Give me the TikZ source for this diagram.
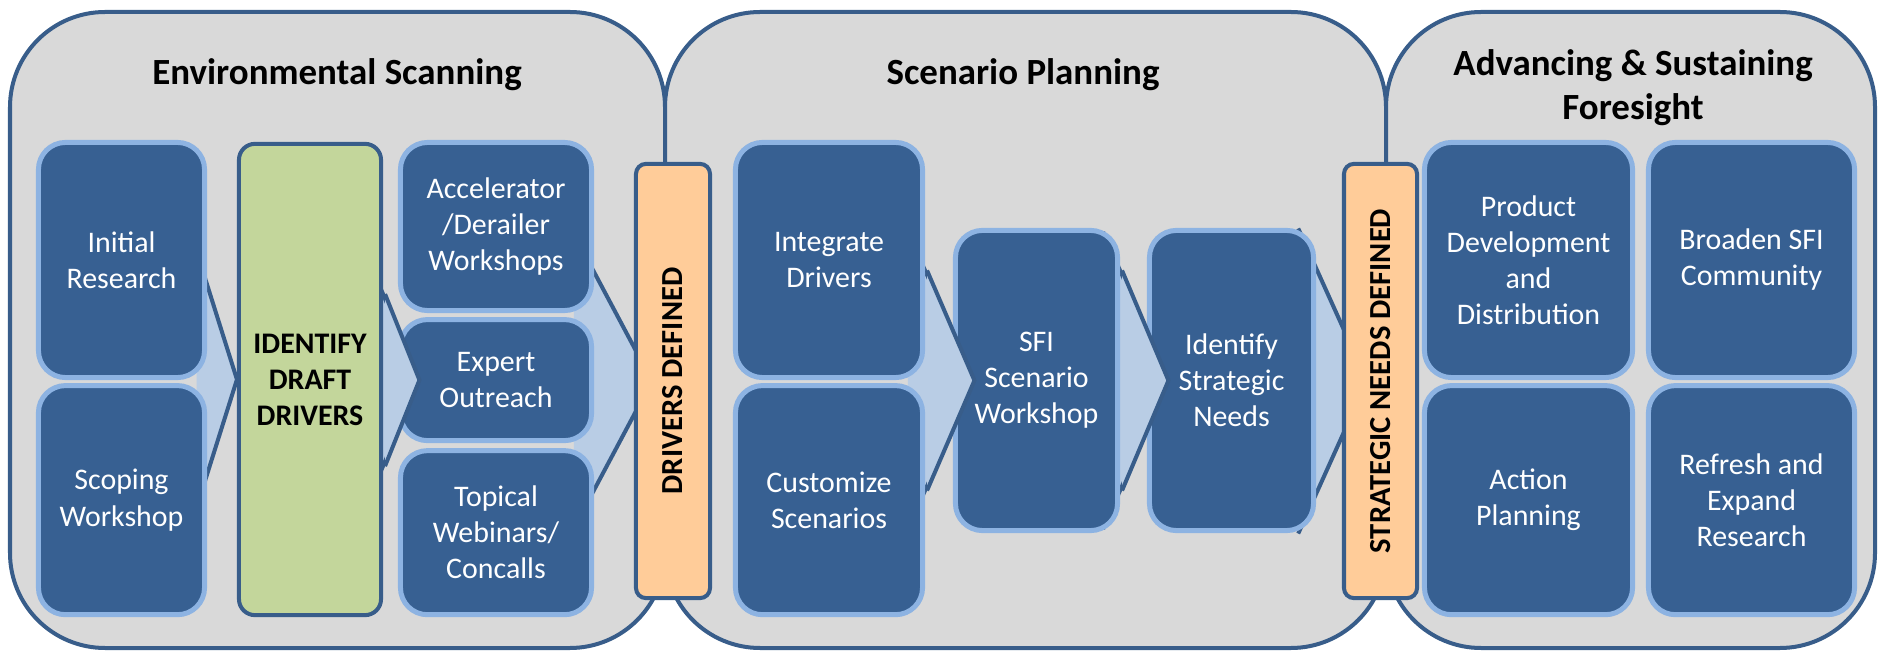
\documentclass[tikz,border=0pt]{standalone}
\usepackage{fontspec}
\setmainfont{Carlito}
\usetikzlibrary{positioning, calc}
\definecolor{panelgray}{HTML}{D9D9D9}
\definecolor{edgeblue}{HTML}{385D8A}
\definecolor{boxblue}{HTML}{376092}
\definecolor{rimblue}{HTML}{8DB3E2}
\definecolor{chevblue}{HTML}{B9CDE5}
\definecolor{keygreen}{HTML}{C3D69B}
\definecolor{gateorange}{HTML}{FFCC99}
\pgfdeclarelayer{panels}
\pgfdeclarelayer{arrows}
\pgfsetlayers{panels,arrows,main}
% chevron under the boxes: #1 source node, #2 tip, #3 half height at the source edge
\newcommand{\chevback}[3]{%
  \coordinate (cu) at ($(#1.east |- #2)+(0,-#3)$);
  \coordinate (cl) at ($(#1.east |- #2)+(0,#3)$);
  \begin{pgfonlayer}{arrows}
    \fill[chev] ($(#2)!1.35!(cu)$) -- (#2) -- ($(#2)!1.35!(cl)$) -- cycle;
    \draw[chevline] ($(#2)!1.35!(cu)$) -- (#2) -- ($(#2)!1.35!(cl)$);
  \end{pgfonlayer}}
% tip of a chevron laid over its target box
\newcommand{\chevfront}[3]{%
  \coordinate (cu) at ($(#1.east |- #2)+(2,-#3)$);
  \coordinate (cl) at ($(#1.east |- #2)+(2,#3)$);
  \fill[chev] (cu) -- (#2) -- (cl) -- cycle;
  \draw[chevline] (cu) -- (#2) -- (cl);}
\begin{document}
\begin{tikzpicture}[
    x=0.01cm, y=-0.01cm,
    panel/.style ={draw=edgeblue, fill=panelgray, line width=0.04cm,
                   rounded corners=0.95cm},
    ttl/.style   ={font=\fontsize{10.5}{12.5}\selectfont\bfseries, align=center},
    blk/.style   ={draw=rimblue, fill=boxblue, line width=0.05cm,
                   rounded corners=0.27cm, text=white, align=center,
                   inner sep=2pt, font=\fontsize{8.5}{10.25}\selectfont},
    key/.style   ={draw=edgeblue, fill=keygreen, line width=0.04cm,
                   rounded corners=0.16cm, align=center,
                   font=\fontsize{8.5}{10.25}\selectfont\bfseries},
    gate/.style  ={draw=edgeblue, fill=gateorange, line width=0.04cm,
                   rounded corners=0.1cm, inner sep=0pt,
                   font=\fontsize{8.7}{10}\selectfont\bfseries},
    chev/.style  ={fill=chevblue},
    chevline/.style={draw=edgeblue, line width=0.04cm},
]
\useasboundingbox (0,0) rectangle (1879,652);
\begin{pgfonlayer}{panels}
\draw[panel] (10,12)   rectangle (665,648);
\draw[panel] (665,12)  rectangle (1386,648);
\draw[panel] (1386,12) rectangle (1875,648);
\end{pgfonlayer}
\node[ttl, anchor=base] (es)  at (337,85)  {Environmental Scanning};
\node[ttl, anchor=base] (sp)  at (1023,85) {Scenario Planning};
\node[ttl]              (asf) at (1633,88) {Advancing \& Sustaining\\Foresight};

\node[blk, minimum width=1.66cm, minimum height=2.35cm] (ir) at (121.5,260)
     {Initial\\Research};
\node[blk, minimum width=1.66cm, minimum height=2.29cm, below=0.03cm of ir] (sw)
     {Scoping\\Workshop};
\node[key, minimum width=1.42cm, minimum height=4.71cm] (dr) at (310,379.5)
     {IDENTIFY\\DRAFT\\DRIVERS};
\node[blk, minimum width=1.91cm, minimum height=1.68cm] (ac) at (496,226.5)
     {Accelerator\\/Derailer\\Workshops};
\node[blk, minimum width=1.91cm, minimum height=1.21cm, below=0.04cm of ac] (eo)
     {Expert\\Outreach};
\node[blk, minimum width=1.91cm, minimum height=1.64cm, below=0.05cm of eo] (tw)
     {Topical\\Webinars/\\Concalls};
\node[gate, minimum width=0.74cm, minimum height=4.34cm] (dd) at (673,381)
     {\rotatebox{90}{DRIVERS DEFINED}};

\node[blk, minimum width=1.87cm, minimum height=2.35cm] (id) at (829,260)
     {Integrate\\Drivers};
\node[blk, minimum width=1.87cm, minimum height=2.29cm, below=0.03cm of id] (cs)
     {Customize\\Scenarios};
\node[blk, minimum width=1.62cm, minimum height=3cm] (sfi) at (1036.5,380.5)
     {SFI\\Scenario\\Workshop};
\node[blk, minimum width=1.64cm, minimum height=3cm] (isn) at (1231.5,380.5)
     {Identify\\Strategic\\Needs};
\node[gate, minimum width=0.73cm, minimum height=4.34cm] (snd) at (1380.5,381)
     {\rotatebox{90}{STRATEGIC NEEDS DEFINED}};

\node[blk, minimum width=2.08cm, minimum height=2.35cm] (pd) at (1528.5,260)
     {Product\\Development\\and\\Distribution};
\node[blk, minimum width=2.08cm, minimum height=2.29cm, below=0.03cm of pd] (ap)
     {Action\\Planning};
\node[blk, minimum width=2.06cm, minimum height=2.35cm] (bs) at (1751.5,260)
     {Broaden SFI\\Community};
\node[blk, minimum width=2.06cm, minimum height=2.29cm, below=0.03cm of bs] (rr)
     {Refresh and\\Expand\\Research};

\coordinate (t1) at (dr.west);
\coordinate (t2) at ($(eo.west)+(21.5,0)$);
\coordinate (t3) at ($(dd.west)+(18,0)$);
\coordinate (t4) at ($(sfi.west)+(21.5,0)$);
\coordinate (t5) at ($(isn.west)+(21.5,0)$);
\coordinate (t6) at ($(snd.west)+(25,0)$);
\chevback{ir}{t1}{95}
\chevback{dr}{t2}{86}
\chevback{ac}{t3}{109}
\chevback{id}{t4}{110}
\chevback{sfi}{t5}{110}
\chevback{isn}{t6}{113}
\chevfront{dr}{t2}{86}
\chevfront{id}{t4}{110}
\chevfront{sfi}{t5}{110}
\end{tikzpicture}
\end{document}
